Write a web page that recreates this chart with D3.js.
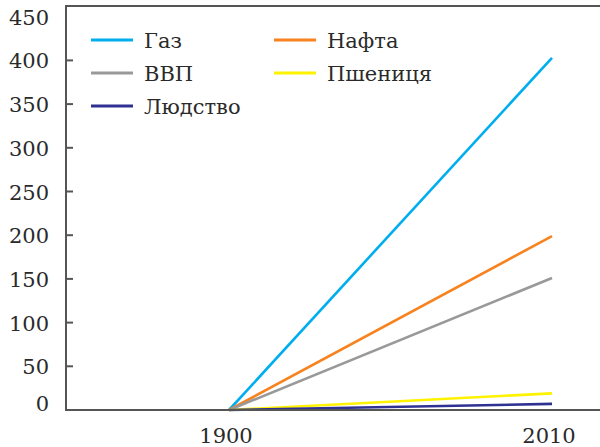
<!DOCTYPE html>
<html><head><meta charset="utf-8">
<script src="https://cdn.jsdelivr.net/npm/d3@7"></script>
<style>body{margin:0;background:#fff}svg{display:block}
svg text{font-family:"DejaVu Serif","Liberation Serif",serif;font-size:21px;fill:#2a2a2a}</style>
</head><body>
<svg id="c" width="600" height="447"></svg>
<script>
const years = [1900, 2010];
const seriesNames = ["Газ", "Нафта", "ВВП", "Пшениця", "Людство"];
const gas = [0, 403];
const oil = [0, 199];
const gdp = [0, 151];
const wheat = [0, 19];
const people = [0, 7];
const colors = ["#00aeef", "#f7821e", "#999999", "#fff200", "#2e3192"];
const yTicks = [0, 50, 100, 150, 200, 250, 300, 350, 400, 450];
const xTicks = [1900, 2010];

const series = [gas, oil, gdp, wheat, people];
const svg = d3.select("#c");
const axisColor = "#555";

const x = d3.scaleLinear().domain([1900, 2010]).range([229, 552]);
const y = d3.scaleLinear().domain([0, 450]).range([410, 16.7]);

// frame
svg.append("line").attr("x1", 66).attr("x2", 600).attr("y1", 6).attr("y2", 6)
  .attr("stroke", axisColor).attr("stroke-width", 2);
svg.append("line").attr("x1", 66).attr("x2", 66).attr("y1", 5).attr("y2", 411)
  .attr("stroke", axisColor).attr("stroke-width", 2);

// y ticks
const yg = svg.append("g");
yTicks.forEach(t => {
  if (t > 0 && t < 450) {
    yg.append("line").attr("x1", 66).attr("x2", 73).attr("y1", y(t)).attr("y2", y(t))
      .attr("stroke", axisColor).attr("stroke-width", 2);
  }
  yg.append("text").attr("x", 49).attr("y", (t === 0 ? y(t) - 7 : y(t)) + 8)
    .attr("text-anchor", "end")
    .text(t);
});

// x labels
xTicks.forEach(t => {
  svg.append("text").attr("x", x(t) - 3).attr("y", 443)
    .attr("text-anchor", "middle")
    .text(t);
});

// lines
const line = d3.line().x((d, i) => x(years[i])).y(d => y(d));
series.forEach((s, i) => {
  svg.append("path").attr("d", line(s)).attr("fill", "none")
    .attr("stroke", colors[i]).attr("stroke-width", 2.6);
});

// bottom axis
svg.append("line").attr("x1", 65).attr("x2", 600).attr("y1", 410).attr("y2", 410)
  .attr("stroke", axisColor).attr("stroke-width", 2);

// legend
const legendPos = [
  {lx: 91, ly: 40}, {lx: 274, ly: 40}, {lx: 91, ly: 73}, {lx: 274, ly: 73}, {lx: 91, ly: 106}
];
seriesNames.forEach((n, i) => {
  const p = legendPos[i];
  svg.append("line").attr("x1", p.lx).attr("x2", p.lx + 42).attr("y1", p.ly).attr("y2", p.ly)
    .attr("stroke", colors[i]).attr("stroke-width", 3);
  svg.append("text").attr("x", p.lx + 53).attr("y", p.ly + 8)
    .text(n);
});
</script>
</body></html>
